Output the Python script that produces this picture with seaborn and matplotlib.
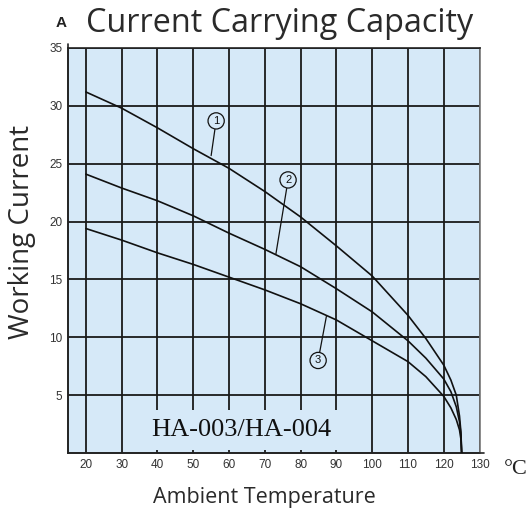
import pandas as pd
import numpy as np
import matplotlib
matplotlib.use("Agg")
import matplotlib.pyplot as plt
import seaborn as sns

# values (ambient temperature in degC, working current in A)
temp_1 = [20, 30, 40, 50, 60, 70, 80, 90, 100, 110, 115, 120, 122, 123.5, 124.4, 124.8, 125]
amps_1 = [31.2, 29.8, 28.1, 26.3, 24.6, 22.6, 20.4, 17.9, 15.3, 11.9, 9.9, 7.6, 6.3, 5.0, 3.2, 1.8, 0]
temp_2 = [20, 30, 40, 50, 60, 70, 80, 90, 100, 110, 115, 120, 122, 123.5, 124.4, 124.8, 125]
amps_2 = [24.1, 22.9, 21.8, 20.5, 19.0, 17.6, 16.1, 14.2, 12.2, 9.7, 8.2, 6.4, 5.3, 4.0, 2.7, 1.6, 0]
temp_3 = [20, 30, 40, 50, 60, 70, 80, 90, 100, 110, 115, 120, 122, 123.5, 124.4, 124.8, 125]
amps_3 = [19.4, 18.4, 17.3, 16.3, 15.2, 14.1, 12.9, 11.5, 9.7, 7.9, 6.6, 4.9, 3.9, 2.9, 2.0, 1.2, 0]

x_ticks = [20, 30, 40, 50, 60, 70, 80, 90, 100, 110, 120, 130]
y_ticks = [5, 10, 15, 20, 25, 30, 35]

# circled labels: (label, circle position, point on curve)
labels = [("1", (56.4, 28.7), (55.0, 25.7)),
          ("2", (76.5, 23.6), (73.1, 17.2)),
          ("3", (84.9, 8.0), (87.2, 11.8))]

df = pd.concat([
    pd.DataFrame({"temp": temp_1, "amps": amps_1, "curve": "1"}),
    pd.DataFrame({"temp": temp_2, "amps": amps_2, "curve": "2"}),
    pd.DataFrame({"temp": temp_3, "amps": amps_3, "curve": "3"}),
])

sns.set_theme(style="white")
plt.rcParams["font.family"] = ["Liberation Sans", "DejaVu Sans"]

bg = "#d6e9f8"
fig = plt.figure(figsize=(5.29, 5.16), dpi=100)
ax = fig.add_axes([0.1285, 0.122, 0.778, 0.785])
ax.set_facecolor(bg)

sns.lineplot(data=df, x="temp", y="amps", hue="curve", sort=False,
             palette=["#111111"] * 3, linewidth=1.2, legend=False, ax=ax, zorder=4)

ax.set_xlim(15, 130)
ax.set_ylim(0, 35)
ax.set_xticks(x_ticks)
ax.set_yticks(y_ticks)
ax.tick_params(axis="both", length=0, labelsize=8.5, labelcolor="#333333", pad=4)
ax.set_axisbelow(True)
ax.grid(True, color="#1a1a1a", linewidth=1.3)
for s in ax.spines.values():
    s.set_color("#222222")
    s.set_linewidth(1.2)
ax.spines["right"].set_color("#777777")

# extended axis lines
ax.plot([0, 0], [0, 1.01], transform=ax.transAxes, color="#222222", lw=1.2, clip_on=False)
ax.plot([0, 1.012], [0, 0], transform=ax.transAxes, color="#222222", lw=1.2, clip_on=False)

ax.set_xlabel("")
ax.set_ylabel("")

for lab, (cx, cy), (px, py) in labels:
    ax.annotate(lab, xy=(px, py), xytext=(cx, cy), ha="center", va="center",
                fontsize=8, color="#111111", zorder=5,
                bbox=dict(boxstyle="circle,pad=0.28", fc=bg, ec="#111111", lw=0.9),
                arrowprops=dict(arrowstyle="-", color="#111111", lw=0.9,
                                shrinkA=0, shrinkB=0))

ax.text(63.5, 2.0, "HA-003/HA-004", ha="center", va="center", fontsize=19,
        family=["Liberation Serif"], color="#111111", zorder=3,
        bbox=dict(boxstyle="square,pad=0.35", fc=bg, ec="none"))

fig.text(0.529, 0.955, "Current Carrying Capacity", ha="center", va="center",
         fontsize=23.3, family=["Open Sans"], color="#2a2a2a")
fig.text(0.115, 0.955, "A", ha="center", va="center", fontsize=11,
         fontweight="bold", color="#222222")
fig.text(0.042, 0.55, "Working Current", ha="center", va="center", rotation=90,
         fontsize=20, family=["Open Sans"], color="#2a2a2a")
fig.text(0.499, 0.035, "Ambient Temperature", ha="center", va="center",
         fontsize=15.5, family=["Open Sans"], color="#2a2a2a")
fig.text(0.998, 0.09, "°C", ha="right", va="center", fontsize=16,
         family=["Liberation Serif"], color="#222222")

fig.savefig("out.png", dpi=100)
